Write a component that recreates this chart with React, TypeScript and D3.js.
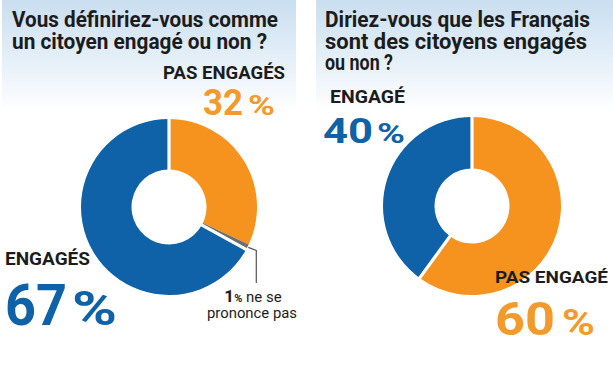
import React from "react";
import * as d3 from "d3";

// ---- Data ----
const leftCategories = ["PAS ENGAGÉS", "Ne se prononce pas", "ENGAGÉS"];
const leftValues = [32, 1, 67];
const rightCategories = ["PAS ENGAGÉ", "ENGAGÉ"];
const rightValues = [60, 40];
const leftTitle = ["Vous définiriez-vous comme", "un citoyen engagé ou non ?"];
const rightTitle = ["Diriez-vous que les Français", "sont des citoyens engagés", "ou non ?"];

const ORANGE = "#f6921e";
const ORANGE_TXT = "#f39a2c";
const BLUE = "#0f62a7";
const GREY = "#6e6e6e";
const DARK = "#1c1c1c";
const FONT = "Roboto, 'Open Sans', sans-serif";

const W = 613;
const H = 372;

type DonutProps = {
  cx: number;
  cy: number;
  rOut: number;
  rIn: number;
  values: number[];
  colors: string[];
  gapAfter: boolean[]; // white separator at end of slice i
};

function Donut({ cx, cy, rOut, rIn, values, colors, gapAfter }: DonutProps) {
  const pie = d3
    .pie<number>()
    .sort(null)
    .value((d) => d)
    .startAngle(0)
    .endAngle(2 * Math.PI);
  const arcs = pie(values);
  const arc = d3.arc<d3.PieArcDatum<number>>().innerRadius(rIn).outerRadius(rOut);
  const seps = arcs
    .map((a, i) => ({ a: a.endAngle, show: gapAfter[i] }))
    .filter((s) => s.show);
  return (
    <g transform={`translate(${cx},${cy})`}>
      {arcs.map((a, i) => (
        <path key={i} d={arc(a) || ""} fill={colors[i]} />
      ))}
      {seps.map((s, i) => {
        const x1 = (rIn - 3) * Math.sin(s.a);
        const y1 = -(rIn - 3) * Math.cos(s.a);
        const x2 = (rOut + 3) * Math.sin(s.a);
        const y2 = -(rOut + 3) * Math.cos(s.a);
        return <line key={i} x1={x1} y1={y1} x2={x2} y2={y2} stroke="#fff" strokeWidth={3.2} />;
      })}
    </g>
  );
}

export default function App() {
  const L = { cx: 169, cy: 207, rOut: 88, rIn: 37.5 };
  const R = { cx: 472, cy: 206, rOut: 89, rIn: 37.5 };

  // leader line for the "ne se prononce pas" slice
  const lp = d3.pie<number>().sort(null).value((d) => d)(leftValues)[1];
  const mid = (lp.startAngle + lp.endAngle) / 2;
  const px = L.cx + (L.rOut + 1) * Math.sin(mid);
  const py = L.cy - (L.rOut + 1) * Math.cos(mid);

  const titleStyle = { fontFamily: FONT, fontWeight: 700, fontSize: 22, fill: DARK } as const;
  const labStyle = { fontFamily: FONT, fontWeight: 700, fill: DARK } as const;

  return (
    <svg
      width={W}
      height={H}
      viewBox={`0 0 ${W} ${H}`}
      style={{ position: "fixed", left: 0, top: 0, background: "#fff" }}
    >
      <defs>
        <linearGradient id="bg" x1="0" y1="0" x2="0" y2="1">
          <stop offset="0" stopColor="#c9def0" />
          <stop offset="0.55" stopColor="#e6f0f8" />
          <stop offset="1" stopColor="#ffffff" />
        </linearGradient>
      </defs>
      <rect x={0} y={0} width={W} height={H} fill="#fff" />
      <rect x={2} y={0} width={294} height={112} fill="url(#bg)" />
      <rect x={316} y={0} width={297} height={112} fill="url(#bg)" />

      {/* Left titles */}
      {leftTitle.map((t, i) => (
        <text key={i} x={12} y={27 + i * 21.5} style={titleStyle} textLength={[266, 255][i]} lengthAdjust="spacingAndGlyphs">
          {t}
        </text>
      ))}
      {/* Right titles */}
      {rightTitle.map((t, i) => (
        <text key={i} x={325} y={27 + i * 21.5} style={titleStyle} textLength={[265, 262, 68][i]} lengthAdjust="spacingAndGlyphs">
          {t}
        </text>
      ))}

      <Donut {...L} values={leftValues} colors={[ORANGE, GREY, BLUE]} gapAfter={[false, true, true]} />
      <Donut {...R} values={rightValues} colors={[ORANGE, BLUE]} gapAfter={[true, true]} />

      {/* Left labels */}
      <text x={163} y={79} style={{ ...labStyle, fontSize: 18 }} textLength={122} lengthAdjust="spacingAndGlyphs">
        {leftCategories[0]}
      </text>
      <text x={203} y={115} style={{ ...labStyle, fontSize: 36, fill: ORANGE_TXT }} textLength={40} lengthAdjust="spacingAndGlyphs">
        {leftValues[0]}
      </text>
      <text x={248} y={115} style={{ ...labStyle, fontSize: 28, fill: ORANGE_TXT }} textLength={27} lengthAdjust="spacingAndGlyphs">
        %
      </text>

      <text x={5} y={265} style={{ ...labStyle, fontSize: 18 }} textLength={85} lengthAdjust="spacingAndGlyphs">
        {leftCategories[2]}
      </text>
      <text x={5} y={325} style={{ ...labStyle, fontSize: 58, fill: BLUE }} textLength={62} lengthAdjust="spacingAndGlyphs">
        {leftValues[2]}
      </text>
      <text x={72} y={325} style={{ ...labStyle, fontSize: 48, fill: BLUE }} textLength={45} lengthAdjust="spacingAndGlyphs">
        %
      </text>

      {/* leader */}
      <polyline
        points={`${px},${py} ${px + 8},${py + 3} ${px + 8},283`}
        fill="none"
        stroke="#555"
        strokeWidth={1.2}
      />
      <text x={253} y={302} textAnchor="middle" style={{ fontFamily: FONT, fill: DARK }}>
        <tspan fontWeight={700} fontSize={17}>{leftValues[1]}</tspan>
        <tspan fontWeight={700} fontSize={11}>%</tspan>
        <tspan fontSize={15}> ne se</tspan>
      </text>
      <text x={207} y={318} style={{ fontFamily: FONT, fontSize: 15, fill: DARK }} textLength={90} lengthAdjust="spacingAndGlyphs">
        prononce pas
      </text>

      {/* Right labels */}
      <text x={330} y={103} style={{ ...labStyle, fontSize: 19 }} textLength={75} lengthAdjust="spacingAndGlyphs">
        {rightCategories[1]}
      </text>
      <text x={323} y={143} style={{ ...labStyle, fontSize: 35, fill: BLUE }} textLength={50} lengthAdjust="spacingAndGlyphs">
        {rightValues[1]}
      </text>
      <text x={377} y={143} style={{ ...labStyle, fontSize: 28, fill: BLUE }} textLength={28} lengthAdjust="spacingAndGlyphs">
        %
      </text>

      <text x={495} y={283} style={{ ...labStyle, fontSize: 17 }} textLength={113} lengthAdjust="spacingAndGlyphs">
        {rightCategories[0]}
      </text>
      <text x={495} y={335} style={{ ...labStyle, fontSize: 46, fill: ORANGE_TXT }} textLength={60} lengthAdjust="spacingAndGlyphs">
        {rightValues[0]}
      </text>
      <text x={562} y={335} style={{ ...labStyle, fontSize: 36, fill: ORANGE_TXT }} textLength={33} lengthAdjust="spacingAndGlyphs">
        %
      </text>
    </svg>
  );
}
